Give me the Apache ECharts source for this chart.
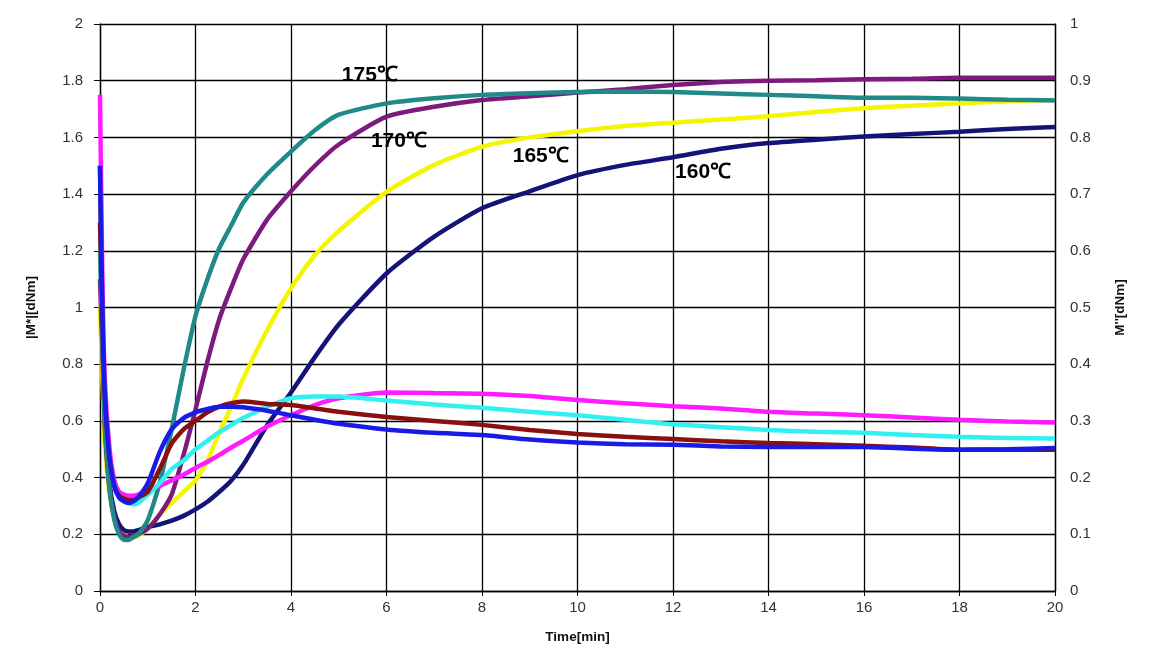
<!DOCTYPE html>
<html>
<head>
<meta charset="utf-8">
<script src="https://cdn.jsdelivr.net/npm/echarts@6/dist/echarts.min.js"></script>
<style>html,body{margin:0;padding:0;background:#fff}#c{width:1150px;height:662px}</style>
</head>
<body>
<div id="c"></div>
<script>
// time axis [min]
const time = [0, 0.05, 0.1, 0.2, 0.3, 0.4, 0.5, 0.6, 0.7, 0.8, 1, 1.25, 1.5, 1.75, 2, 2.25, 2.5, 2.75, 3, 3.5, 4, 4.5, 5, 6, 7, 8, 9, 10, 11, 12, 13, 14, 15, 16, 17, 18, 19, 20];

// |M*| [dNm] (left axis)
const mStar175 = [1.2, 0.9, 0.6, 0.36, 0.25, 0.2, 0.18, 0.18, 0.19, 0.2, 0.25, 0.38, 0.57, 0.78, 0.97, 1.1, 1.21, 1.29, 1.37, 1.47, 1.55, 1.625, 1.68, 1.72, 1.738, 1.75, 1.756, 1.76, 1.762, 1.76, 1.755, 1.75, 1.745, 1.74, 1.74, 1.737, 1.733, 1.73];
const mStar170 = [1.1, 0.85, 0.58, 0.36, 0.26, 0.21, 0.195, 0.19, 0.195, 0.2, 0.22, 0.27, 0.34, 0.48, 0.64, 0.81, 0.96, 1.07, 1.17, 1.31, 1.41, 1.50, 1.575, 1.673, 1.708, 1.732, 1.745, 1.758, 1.77, 1.785, 1.795, 1.80, 1.802, 1.805, 1.807, 1.81, 1.81, 1.81];
const mStar165 = [1.0, 0.75, 0.52, 0.34, 0.26, 0.22, 0.2, 0.19, 0.19, 0.195, 0.22, 0.27, 0.31, 0.35, 0.39, 0.46, 0.56, 0.65, 0.75, 0.92, 1.068, 1.185, 1.27, 1.408, 1.503, 1.567, 1.6, 1.622, 1.64, 1.652, 1.663, 1.675, 1.69, 1.703, 1.712, 1.72, 1.727, 1.733];
const mStar160 = [1.5, 0.95, 0.62, 0.38, 0.28, 0.235, 0.215, 0.21, 0.21, 0.215, 0.225, 0.235, 0.248, 0.265, 0.288, 0.315, 0.35, 0.39, 0.445, 0.585, 0.70, 0.825, 0.94, 1.12, 1.25, 1.35, 1.41, 1.467, 1.503, 1.53, 1.56, 1.58, 1.592, 1.603, 1.612, 1.62, 1.63, 1.637];

// M'' [dNm] (right axis)
const mLossBlue = [0.75, 0.5, 0.35, 0.235, 0.185, 0.165, 0.158, 0.155, 0.158, 0.165, 0.19, 0.245, 0.285, 0.305, 0.315, 0.321, 0.325, 0.325, 0.324, 0.318, 0.31, 0.302, 0.295, 0.285, 0.279, 0.275, 0.267, 0.262, 0.259, 0.258, 0.255, 0.254, 0.254, 0.254, 0.251, 0.249, 0.25, 0.252];
const mLossBrown = [0.65, 0.475, 0.34, 0.23, 0.185, 0.168, 0.163, 0.16, 0.16, 0.165, 0.175, 0.215, 0.26, 0.285, 0.3, 0.315, 0.325, 0.331, 0.334, 0.33, 0.328, 0.322, 0.316, 0.307, 0.3, 0.293, 0.284, 0.277, 0.272, 0.268, 0.264, 0.261, 0.259, 0.256, 0.253, 0.249, 0.249, 0.249];
const mLossCyan = [0.625, 0.475, 0.34, 0.23, 0.185, 0.165, 0.158, 0.155, 0.153, 0.155, 0.17, 0.19, 0.215, 0.23, 0.25, 0.265, 0.28, 0.293, 0.305, 0.325, 0.34, 0.343, 0.343, 0.336, 0.329, 0.323, 0.316, 0.31, 0.302, 0.294, 0.289, 0.284, 0.281, 0.279, 0.275, 0.272, 0.27, 0.269];
const mLossPink = [0.875, 0.55, 0.375, 0.25, 0.195, 0.175, 0.17, 0.168, 0.168, 0.17, 0.178, 0.185, 0.195, 0.205, 0.217, 0.228, 0.24, 0.253, 0.265, 0.29, 0.31, 0.328, 0.34, 0.35, 0.349, 0.348, 0.344, 0.337, 0.331, 0.326, 0.322, 0.316, 0.313, 0.31, 0.306, 0.302, 0.299, 0.297];

// temperature annotations (time, |M*|, text)
const labelTime = [5.65, 6.26, 9.23, 12.63];
const labelValue = [1.82, 1.585, 1.533, 1.476];
const labelText = ['175℃', '170℃', '165℃', '160℃'];

const xTicks = { min: 0, max: 20, interval: 2 };
const yLeftTicks = { min: 0, max: 2, interval: 0.2 };
const yRightTicks = { min: 0, max: 1, interval: 0.1 };

const zip = arr => time.map((t, i) => [t, arr[i]]);
const lineSeries = (name, arr, color, yIdx) => ({
  name, type: 'line', yAxisIndex: yIdx, data: zip(arr),
  showSymbol: false, symbol: 'none', smooth: 0.2,
  lineStyle: { color, width: 4.5 }, itemStyle: { color }, z: 3
});

const font = 'Liberation Sans, Arial, sans-serif';
const chart = echarts.init(document.getElementById('c'), null, { renderer: 'canvas' });
chart.setOption({
  animation: false,
  backgroundColor: '#fff',
  grid: { left: 100, right: 95, top: 24, bottom: 71, containLabel: false },
  xAxis: {
    type: 'value', min: xTicks.min, max: xTicks.max, interval: xTicks.interval,
    name: 'Time[min]', nameLocation: 'middle', nameGap: 39,
    nameTextStyle: { fontFamily: font, fontWeight: 'bold', fontSize: 13.5, color: '#111' },
    axisLine: { show: true, lineStyle: { color: '#000', width: 1.3 } },
    axisTick: { show: true, length: 5, lineStyle: { color: '#000' } },
    axisLabel: { fontFamily: font, fontSize: 15, color: '#333', margin: 9 },
    splitLine: { show: true, lineStyle: { color: '#000', width: 1.3 } }
  },
  yAxis: [{
    type: 'value', position: 'left', min: yLeftTicks.min, max: yLeftTicks.max, interval: yLeftTicks.interval,
    name: '|M*|[dNm]', nameLocation: 'middle', nameGap: 62,
    nameTextStyle: { fontFamily: font, fontWeight: 'bold', fontSize: 13.5, color: '#111' },
    axisLine: { show: true, lineStyle: { color: '#000', width: 1.3 } },
    axisTick: { show: true, length: 6, lineStyle: { color: '#000' } },
    axisLabel: { fontFamily: font, fontSize: 15, color: '#333', margin: 17 },
    splitLine: { show: true, lineStyle: { color: '#000', width: 1.3 } }
  }, {
    type: 'value', position: 'right', min: yRightTicks.min, max: yRightTicks.max, interval: yRightTicks.interval,
    name: "M''[dNm]", nameLocation: 'middle', nameGap: 58, nameRotate: 90,
    nameTextStyle: { fontFamily: font, fontWeight: 'bold', fontSize: 13.5, color: '#111' },
    axisLine: { show: true, lineStyle: { color: '#000', width: 1.3 } },
    axisTick: { show: false },
    axisLabel: { fontFamily: font, fontSize: 15, color: '#333', margin: 15 },
    splitLine: { show: false }
  }],
  series: [
    lineSeries('165℃ |M*|', mStar165, '#f5f500', 0),
    lineSeries('160℃ |M*|', mStar160, '#141478', 0),
    lineSeries('170℃ |M*|', mStar170, '#7d1a7d', 0),
    lineSeries('175℃ |M*|', mStar175, '#1f8a87', 0),
    lineSeries("M'' pink", mLossPink, '#ff1aff', 1),
    lineSeries("M'' cyan", mLossCyan, '#33f0f0', 1),
    lineSeries("M'' brown", mLossBrown, '#8a0f0f', 1),
    lineSeries("M'' blue", mLossBlue, '#1a1ae6', 1),
    {
      type: 'scatter', yAxisIndex: 0, symbolSize: 0, z: 5, silent: true,
      data: labelTime.map((t, i) => ({ value: [t, labelValue[i]], name: labelText[i] })),
      label: { show: true, position: 'inside', formatter: p => p.name,
        fontFamily: font, fontWeight: 'bold', fontSize: 21, color: '#000', opacity: 1 }
    }
  ]
});
</script>
</body>
</html>
